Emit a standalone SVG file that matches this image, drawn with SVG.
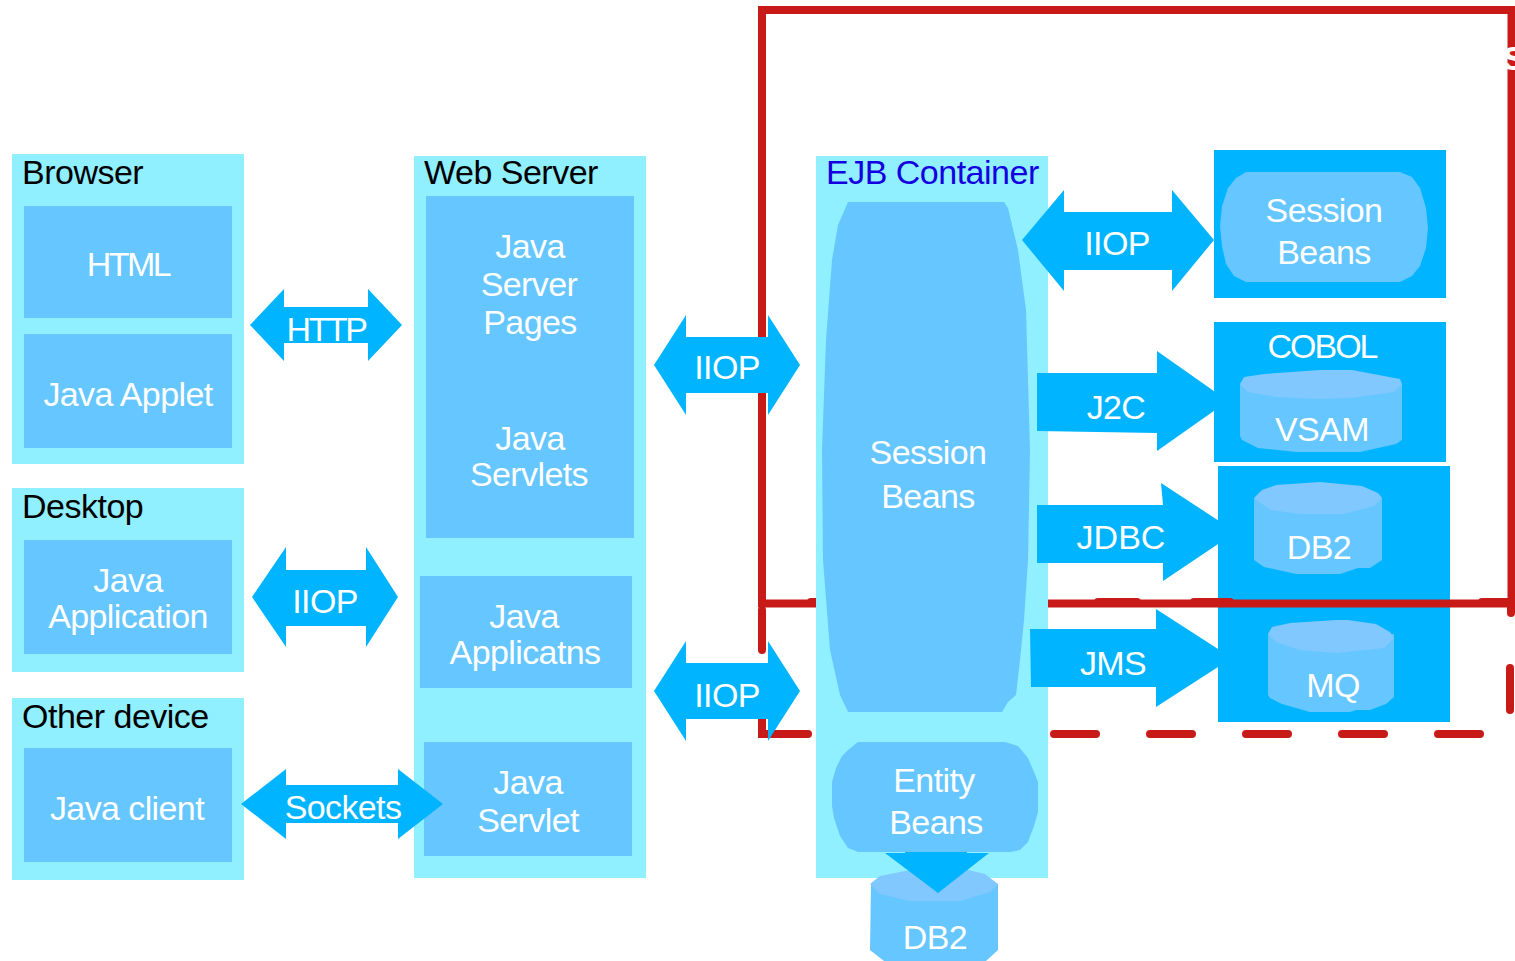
<svg xmlns="http://www.w3.org/2000/svg" width="1515" height="961" viewBox="0 0 1515 961">
<style>
.outer{fill:#90F0FF}
.inner{fill:#66C6FF}
.res{fill:#00B4FF}
.cap{fill:#80C8FF}
.arrow{fill:#00B4FF}
text{font-family:"Liberation Sans",Arial,sans-serif;font-size:34px;letter-spacing:-.6px;text-anchor:middle;fill:#fff}
.head{text-anchor:start;fill:#000;letter-spacing:-.5px}
.ejb{fill:#1400E0}
.tight{letter-spacing:-2.5px}
.solid{fill:none;stroke:#C81A16;stroke-width:8}
.dash{fill:none;stroke:#C81A16;stroke-width:8;stroke-linecap:round}
</style>
<rect width="1515" height="961" fill="#fff"/>
<g id="browser"><rect class="outer" x="12" y="154" width="232" height="310"/><text class="head" x="22" y="184">Browser</text></g>
<g id="html"><rect class="inner" x="24" y="206" width="208" height="112"/><text class="tight" x="128" y="276">HTML</text></g>
<g id="applet"><rect class="inner" x="24" y="334" width="208" height="114"/><text x="128" y="406">Java Applet</text></g>
<g id="desktop"><rect class="outer" x="12" y="488" width="232" height="184"/><text class="head" x="22" y="518">Desktop</text></g>
<g id="java-application"><rect class="inner" x="24" y="540" width="208" height="114"/><text x="128" y="592">Java</text><text x="128" y="628">Application</text></g>
<g id="other-device"><rect class="outer" x="12" y="698" width="232" height="182"/><text class="head" x="22" y="728">Other device</text></g>
<g id="java-client"><rect class="inner" x="24" y="748" width="208" height="114"/><text x="127" y="820">Java client</text></g>
<g id="web-server"><rect class="outer" x="414" y="156" width="232" height="722"/><text class="head" x="424" y="184">Web Server</text></g>
<g id="jsp-servlets"><rect class="inner" x="426" y="196" width="208" height="342"/><text x="530" y="258">Java</text><text x="529" y="296">Server</text><text x="530" y="334">Pages</text><text x="530" y="450">Java</text><text x="529" y="486">Servlets</text></g>
<g id="java-applicatns"><rect class="inner" x="420" y="576" width="212" height="112"/><text x="524" y="628">Java</text><text x="525" y="664">Applicatns</text></g>
<g id="java-servlet"><rect class="inner" x="424" y="742" width="208" height="114"/><text x="528" y="794">Java</text><text x="528" y="832">Servlet</text></g>
<g id="session-res"><rect class="res" x="1214" y="150" width="232" height="148"/><polygon class="inner" points="1246,172 1400,172 1412,177 1420,188 1426,208 1428,228 1426,248 1420,266 1412,276 1400,282 1246,282 1234,276 1226,264 1222,246 1220,226 1222,206 1228,188 1236,178"/><text x="1324" y="222">Session</text><text x="1324" y="264">Beans</text></g>
<g id="cobol"><rect class="res" x="1214" y="322" width="232" height="140"/><text style="letter-spacing:-2px" x="1322" y="358">COBOL</text></g>
<g id="vsam"><polygon class="inner" points="1240,384 1402,384 1402,440 1396,444 1360,452 1296,452 1258,448 1242,440 1240,436"/><polygon class="cap" points="1240,384 1244,377 1264,374 1320,370 1352,370 1400,379 1402,384 1394,392 1352,398 1318,399 1276,397 1248,392"/><text x="1322" y="441">VSAM</text></g>
<g id="db2-res"><rect class="res" x="1218" y="466" width="232" height="256"/><polygon class="inner" points="1254,498 1382,498 1382,560 1370,568 1358,568 1340,574 1296,574 1264,567 1254,560"/><polygon class="cap" points="1254,498 1262,490 1276,485 1320,482 1362,486 1378,493 1382,498 1374,506 1344,514 1300,514 1270,510"/><text x="1319" y="559">DB2</text></g>
<g id="mq"><polygon class="inner" points="1268,634 1394,634 1394,697 1386,704 1370,710 1356,710 1350,712 1310,712 1282,704 1270,698 1268,695"/><polygon class="cap" points="1268,634 1272,627 1290,623 1336,620 1348,620 1376,624 1390,632 1394,638 1384,648 1336,653 1300,650 1276,642"/><text x="1333" y="697">MQ</text></g>
<g id="container-boundary">
<rect class="solid" x="762" y="10" width="749.500" height="593.500"/>
<path class="dash" d="M811 602H820M1098 602H1137M1194 602H1230M1482 602H1511V613M1510 668V710M1054 734H1096M1150 734H1192M1246 734H1288M1342 734H1384M1438 734H1480M808 734H762V716M762 650V610"/>
<text x="1502" y="70" style="font-weight:bold;font-size:42px;text-anchor:start">s</text>
</g>
<g id="ejb-container"><rect class="outer" x="816" y="156" width="232" height="722"/><text class="head ejb" x="826" y="184">EJB Container</text></g>
<g id="session-beans"><polygon class="inner" points="848,202 1004,202 1008,208 1018,250 1026,310 1030,450 1028,560 1024,620 1020,660 1016,695 1008,702 1002,712 848,712 840,695 830,650 823,560 822,450 826,340 832,260 838,225"/><text x="928" y="464">Session</text><text x="928" y="508">Beans</text></g>
<g id="entity-beans"><polygon class="inner" points="858,742 1005,742 1018,746 1028,758 1034,772 1038,782 1038,812 1034,826 1028,842 1020,850 1010,852 858,852 848,848 840,836 834,818 832,806 832,782 836,768 842,756 848,750"/><text x="934" y="792">Entity</text><text x="936" y="834">Beans</text></g>
<g id="db2-bottom"><polygon class="inner" points="871,884 998,884 998,950 986,961 884,961 870,950"/><polygon class="cap" points="870,884 880,876 910,870 960,868 985,874 998,884 990,892 960,901 910,901 880,894"/></g>
<g id="connectors">
<polygon class="arrow" points="250,325 284,289 284,307 368,307 368,289 402,325 368,361 368,343 284,343 284,361"/>
<polygon class="arrow" points="252,597 286,547 286,570 366,570 366,547 398,597 366,647 366,626 286,626 286,647"/>
<polygon class="arrow" points="241,804 286,769 286,785 398,785 398,769 443,804 398,839 398,823 286,823 286,839"/>
<polygon class="arrow" points="654,365 686,315 686,337 768,337 768,315 800,365 768,415 768,393 686,393 686,415"/>
<polygon class="arrow" points="654,691 686,641 686,663 768,663 768,641 800,691 768,741 768,719 686,719 686,741"/>
<polygon class="arrow" points="1022,240 1064,190 1064,212 1172,212 1172,190 1214,240 1172,291 1172,270 1064,270 1064,291"/>
<polygon class="arrow" points="1037,373 1157,373 1157,351 1228,401 1157,451 1157,433 1037,431"/>
<polygon class="arrow" points="1037,505 1163,505 1161,483 1236,532 1163,581 1163,563 1037,563"/>
<polygon class="arrow" points="1030,629 1156,629 1156,609 1232,658 1156,707 1156,687 1031,687"/>
<polygon class="arrow" points="905,852 967,852 967,853 989,853 938,893 885,853 905,853"/>
</g>
<g id="connector-labels">
<text class="tight" x="326" y="341">HTTP</text><text x="325" y="613">IIOP</text><text x="343" y="819">Sockets</text><text x="727" y="379">IIOP</text><text x="727" y="707">IIOP</text><text x="1117" y="255">IIOP</text><text x="1116" y="419">J2C</text><text style="letter-spacing:0" x="1121" y="549">JDBC</text><text x="1113" y="675">JMS</text>
<text x="935" y="949">DB2</text>
</g>
</svg>
